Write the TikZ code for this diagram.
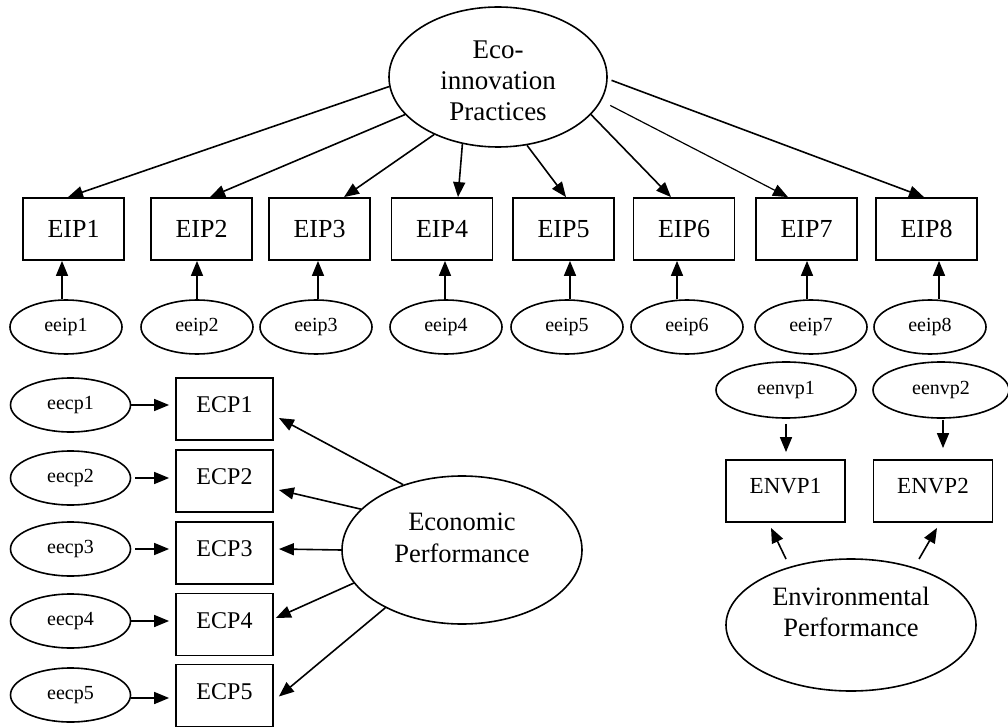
\documentclass[tikz,border=0pt]{standalone}
\usepackage{fontspec}
\setmainfont{Liberation Serif}
\usetikzlibrary{shapes.geometric,arrows.meta}
\begin{document}
\begin{tikzpicture}[x=1pt,y=-1pt,
  arr/.style={line width=1.6pt,-{Triangle[length=15pt,width=12pt]}},
  obs/.style={draw,line width=1.8pt,rectangle,inner sep=0pt,minimum height=62pt},
  eipbox/.style={obs,minimum width=101pt,font=\fontsize{26}{30}\selectfont},
  ecpbox/.style={obs,minimum width=97pt,font=\fontsize{24}{28}\selectfont,text depth=8pt},
  envbox/.style={obs,minimum width=119pt,font=\fontsize{23}{27}\selectfont,text depth=10pt},
  err/.style={draw,ellipse,line width=1.6pt,inner sep=0pt,font=\fontsize{20}{24}\selectfont},
  lat/.style={draw,ellipse,line width=1.6pt,inner sep=0pt},
  lattext/.style={align=center,inner sep=0pt}
]
\useasboundingbox (0,0) rectangle (1008,727);

% Eco-innovation latent
\node[lat,minimum width=218pt,minimum height=140pt] (eco) at (498,77) {};
\node[lattext,font=\fontsize{27}{31}\selectfont] (ecot) at ([yshift=-4pt]eco.center) {Eco-\\innovation\\Practices};

% EIP boxes
\node[eipbox] (EIP1) at (73.5,229) {EIP1};
\node[eipbox] (EIP2) at (201.5,229) {EIP2};
\node[eipbox] (EIP3) at (319.5,229) {EIP3};
\node[eipbox] (EIP4) at (442,229) {EIP4};
\node[eipbox] (EIP5) at (563.5,229) {EIP5};
\node[eipbox] (EIP6) at (684,229) {EIP6};
\node[eipbox] (EIP7) at (806.5,229) {EIP7};
\node[eipbox] (EIP8) at (926.5,229) {EIP8};

% eeip errors
\node[err,minimum width=112pt,minimum height=54pt] (eeip1) at (66,327) {eeip1};
\node[err,minimum width=112pt,minimum height=54pt] (eeip2) at (197,327) {eeip2};
\node[err,minimum width=112pt,minimum height=54pt] (eeip3) at (316,327) {eeip3};
\node[err,minimum width=112pt,minimum height=54pt] (eeip4) at (446,327) {eeip4};
\node[err,minimum width=112pt,minimum height=54pt] (eeip5) at (567,327) {eeip5};
\node[err,minimum width=112pt,minimum height=54pt] (eeip6) at (687,327) {eeip6};
\node[err,minimum width=112pt,minimum height=54pt] (eeip7) at (811,327) {eeip7};
\node[err,minimum width=112pt,minimum height=54pt] (eeip8) at (930,327) {eeip8};

% Eco -> EIP
\draw[arr] (eco.185.8) -- ([xshift=-5.5pt]EIP1.north);
\draw[arr] (eco.202) -- ([xshift=8.5pt]EIP2.north);
\draw[arr] (eco.222) -- ([xshift=24.5pt]EIP3.north);
\draw[arr] (eco.242) -- ([xshift=16pt]EIP4.north);
\draw[arr] (eco.293.6) -- ([xshift=2.5pt]EIP5.north);
\draw[arr] (eco.338.4) -- ([xshift=-13pt]EIP6.north);
\draw[arr,line width=1.2pt,shorten <=10pt] (eco.347.6) -- ([xshift=-18.5pt]EIP7.north);
\draw[arr,shorten <=4pt] (eco.359) -- ([xshift=-2.5pt]EIP8.north);

% eeip -> EIP
\draw[arr] ([xshift=-4pt]eeip1.north) -- ([xshift=-4pt]eeip1.north |- EIP1.south);
\draw[arr] (eeip2.north) -- (eeip2.north |- EIP2.south);
\draw[arr] ([xshift=2pt]eeip3.north) -- ([xshift=2pt]eeip3.north |- EIP3.south);
\draw[arr] ([xshift=-1pt]eeip4.north) -- ([xshift=-1pt]eeip4.north |- EIP4.south);
\draw[arr] ([xshift=3pt]eeip5.north) -- ([xshift=3pt]eeip5.north |- EIP5.south);
\draw[arr] ([xshift=-10pt]eeip6.north) -- ([xshift=-10pt]eeip6.north |- EIP6.south);
\draw[arr] ([xshift=-4pt]eeip7.north) -- ([xshift=-4pt]eeip7.north |- EIP7.south);
\draw[arr] ([xshift=9pt]eeip8.north) -- ([xshift=9pt]eeip8.north |- EIP8.south);

% ECP boxes
\node[ecpbox] (ECP1) at (224.5,409) {ECP1};
\node[ecpbox] (ECP2) at (224.5,481) {ECP2};
\node[ecpbox] (ECP3) at (224.5,553) {ECP3};
\node[ecpbox] (ECP4) at (224.5,624.5) {ECP4};
\node[ecpbox] (ECP5) at (224.5,695.5) {ECP5};

% eecp errors
\node[err,minimum width=120pt,minimum height=54pt] (eecp1) at (70.5,405) {eecp1};
\node[err,minimum width=120pt,minimum height=54pt] (eecp2) at (70.5,478) {eecp2};
\node[err,minimum width=120pt,minimum height=54pt] (eecp3) at (70.5,549) {eecp3};
\node[err,minimum width=120pt,minimum height=54pt] (eecp4) at (70.5,621) {eecp4};
\node[err,minimum width=120pt,minimum height=54pt] (eecp5) at (70.5,695) {eecp5};

\draw[arr,shorten >=6pt] (eecp1.east) -- (eecp1.east -| ECP1.west);
\draw[arr,shorten >=6pt,shorten <=4pt] (eecp2.east) -- (eecp2.east -| ECP2.west);
\draw[arr,shorten >=6pt,shorten <=4pt] (eecp3.east) -- (eecp3.east -| ECP3.west);
\draw[arr,shorten >=6pt] (eecp4.east) -- (eecp4.east -| ECP4.west);
\draw[arr,shorten >=6pt] ([yshift=-3pt]eecp5.east) -- ([yshift=-3pt]eecp5.east -| ECP5.west);

% Economic Performance latent
\node[lat,minimum width=240pt,minimum height=148pt] (econ) at (462,550) {};
\node[lattext,font=\fontsize{26.5}{32}\selectfont] (econt) at ([yshift=12pt]econ.center) {Economic\\Performance};

\draw[arr] (econ.132) -- ([xshift=5pt,yshift=-9pt]ECP1.east);
\draw[arr] (econ.158.6) -- ([xshift=5pt,yshift=-9pt]ECP2.east);
\draw[arr] (econ.180) -- ([xshift=5pt,yshift=4pt]ECP3.east);
\draw[arr] (econ.197.2) -- ([xshift=2pt,yshift=6.5pt]ECP4.east);
\draw[arr] (econ.217.5) -- ([xshift=5pt,yshift=-1pt]ECP5.east);

% Environmental section
\node[err,minimum width=140pt,minimum height=56pt] (eenvp1) at (786,390) {eenvp1};
\node[err,minimum width=136pt,minimum height=56pt] (eenvp2) at (941,390) {eenvp2};
\node[envbox] (ENVP1) at (785.5,491) {ENVP1};
\node[envbox] (ENVP2) at (933,491) {ENVP2};

\draw[arr,shorten <=5pt,shorten >=7pt] (eenvp1.south) -- (eenvp1.south |- ENVP1.north);
\draw[arr,shorten <=1pt,shorten >=11pt] ([xshift=2pt]eenvp2.south) -- ([xshift=2pt]eenvp2.south |- ENVP2.north);

\node[lat,minimum width=250pt,minimum height=132pt] (envp) at (851,625) {};
\node[lattext,font=\fontsize{26.5}{31}\selectfont] (envpt) at ([yshift=13pt]envp.center) {Environmental\\Performance};

\draw[arr] ([xshift=-65pt,yshift=66pt]envp.center) -- ([xshift=-14.5pt,yshift=-5pt]ENVP1.south);
\draw[arr] ([xshift=68pt,yshift=66pt]envp.center) -- ([xshift=4pt,yshift=-5pt]ENVP2.south);
\end{tikzpicture}
\end{document}
